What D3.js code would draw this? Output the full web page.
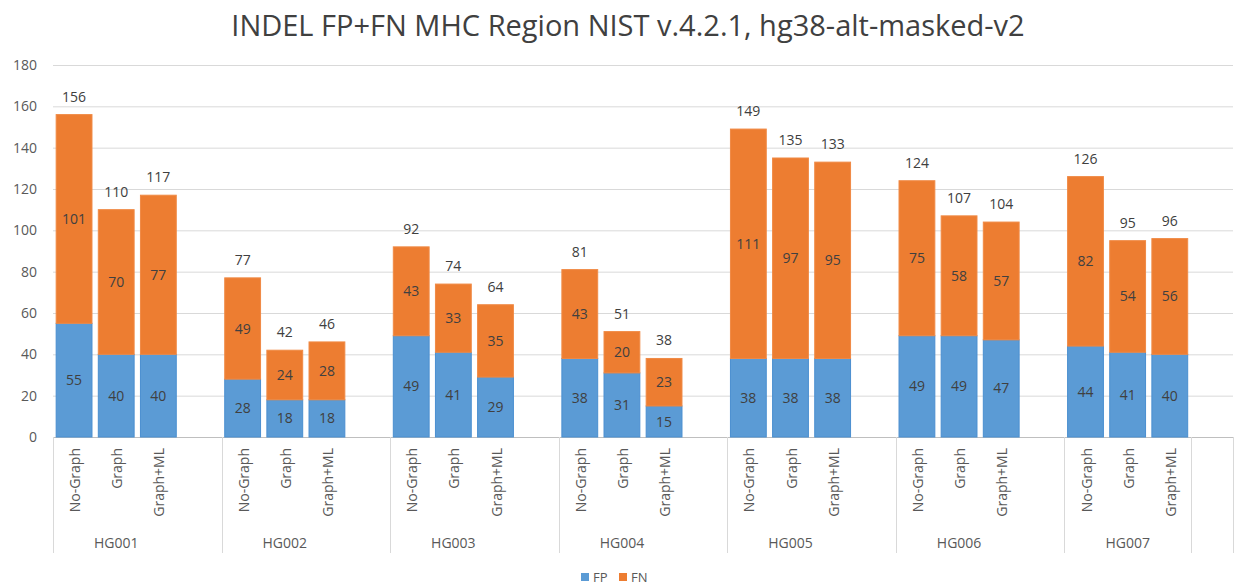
<!DOCTYPE html>
<html>
<head>
<meta charset="utf-8">
<script src="https://cdnjs.cloudflare.com/ajax/libs/d3/7.8.5/d3.min.js"></script>
<style>
  body { margin: 0; background: #fff; }
  text { font-family: "Open Sans", "Noto Sans", sans-serif; }
</style>
</head>
<body>
<div id="Canvas"></div>
<script>
// data
let groups = ["HG001", "HG002", "HG003", "HG004", "HG005", "HG006", "HG007"]
let methods = ["No-Graph", "Graph", "Graph+ML"]
let FP = [
    [55, 40, 40],
    [28, 18, 18],
    [49, 41, 29],
    [38, 31, 15],
    [38, 38, 38],
    [49, 49, 47],
    [44, 41, 40]
]
let FN = [
    [101, 70, 77],
    [49, 24, 28],
    [43, 33, 35],
    [43, 20, 23],
    [111, 97, 95],
    [75, 58, 57],
    [82, 54, 56]
]
let yTicks = [0, 20, 40, 60, 80, 100, 120, 140, 160, 180]
let seriesNames = ["FP", "FN"]
let colors = ["#5B9BD5", "#ED7D31"]

// svg
let svg = d3.select("#Canvas")
    .append("svg")
    .attr("width", 1235)
    .attr("height", 588)

// slots: each group has 3 bars + 1 blank slot, last group ends with its own blank slot
let slots = []
let bars = []
groups.forEach((g, gi) => {
    methods.forEach((m, mi) => {
        let key = g + "|" + m
        slots.push(key)
        bars.push({ group: g, method: m, key: key, fp: FP[gi][mi], fn: FN[gi][mi] })
    })
    slots.push(g + "|blank")
})

let plotLeft = 53, plotRight = 1233, plotTop = 65, plotBottom = 437

let xScale = d3.scaleBand()
    .domain(slots)
    .range([plotLeft, plotRight])
    .paddingInner(0.15)
    .paddingOuter(0.075)
let step = xScale.step()
let yScale = d3.scaleLinear()
    .domain([0, 180])
    .range([plotBottom, plotTop])

// title
svg.append("text")
    .attr("x", 628)
    .attr("y", 36)
    .attr("text-anchor", "middle")
    .style("font-size", "29px")
    .style("fill", "#404040")
    .text("INDEL FP+FN MHC Region NIST v.4.2.1, hg38-alt-masked-v2")

// gridlines + y labels
svg.append("g")
    .selectAll("line")
    .data(yTicks)
    .enter()
    .append("line")
    .attr("x1", plotLeft)
    .attr("x2", plotRight)
    .attr("y1", d => yScale(d) + 0.5)
    .attr("y2", d => yScale(d) + 0.5)
    .style("stroke", d => d === 0 ? "#bfbfbf" : "#d9d9d9")
    .style("stroke-width", 1)
svg.append("g")
    .selectAll("text")
    .data(yTicks)
    .enter()
    .append("text")
    .attr("x", 37)
    .attr("y", d => yScale(d) + 5)
    .attr("text-anchor", "end")
    .style("font-size", "14px")
    .style("fill", "#595959")
    .text(d => d)

// stacked bars
let stackData = bars.map(d => ({ key: d.key, FP: d.fp, FN: d.fn }))
let stacked = d3.stack().keys(seriesNames)(stackData)

let layers = svg.append("g")
    .selectAll("g")
    .data(stacked)
    .enter()
    .append("g")
    .style("fill", (d, i) => colors[i])
    .style("stroke", (d, i) => i === 0 ? "#4a8fd0" : "#f08a45")
    .style("stroke-width", 1)
layers.selectAll("rect")
    .data(d => d)
    .enter()
    .append("rect")
    .attr("x", d => xScale(d.data.key))
    .attr("width", xScale.bandwidth())
    .attr("y", d => yScale(d[1]))
    .attr("height", d => yScale(d[0]) - yScale(d[1]))

// value labels inside segments
let segLabels = []
stacked.forEach(s => {
    s.forEach(d => segLabels.push({ key: d.data.key, mid: (d[0] + d[1]) / 2, v: d[1] - d[0] }))
})
svg.append("g")
    .selectAll("text")
    .data(segLabels)
    .enter()
    .append("text")
    .attr("x", d => xScale(d.key) + xScale.bandwidth() / 2)
    .attr("y", d => yScale(d.mid) + 5)
    .attr("text-anchor", "middle")
    .style("font-size", "14px")
    .style("fill", "#404040")
    .text(d => d.v)

// totals on top
svg.append("g")
    .selectAll("text")
    .data(bars)
    .enter()
    .append("text")
    .attr("x", d => xScale(d.key) + xScale.bandwidth() / 2)
    .attr("y", d => yScale(d.fp + d.fn) - 13)
    .attr("text-anchor", "middle")
    .style("font-size", "14px")
    .style("fill", "#404040")
    .text(d => d.fp + d.fn)

// category labels (rotated)
svg.append("g")
    .selectAll("text")
    .data(bars)
    .enter()
    .append("text")
    .attr("transform", d => "translate(" + (xScale(d.key) + xScale.bandwidth() / 2 + 6) + ",448) rotate(-90)")
    .attr("text-anchor", "end")
    .style("font-size", "14px")
    .style("fill", "#595959")
    .text(d => d.method)

// group separators: every 4 slots, last group has 3 + lone blank slot
let sepX = [plotLeft]
groups.forEach((g, gi) => {
    if (gi < groups.length - 1) sepX.push(plotLeft + step * 4 * (gi + 1))
})
sepX.push(plotLeft + step * (slots.length - 1))
sepX.push(plotRight)
svg.append("g")
    .selectAll("line")
    .data(sepX)
    .enter()
    .append("line")
    .attr("x1", d => Math.round(d) + 0.5)
    .attr("x2", d => Math.round(d) + 0.5)
    .attr("y1", plotBottom)
    .attr("y2", 553)
    .style("stroke", "#d9d9d9")

// group labels
svg.append("g")
    .selectAll("text")
    .data(groups)
    .enter()
    .append("text")
    .attr("x", (d, i) => (xScale(d + "|No-Graph") + xScale(d + "|Graph+ML") + xScale.bandwidth()) / 2)
    .attr("y", 548)
    .attr("text-anchor", "middle")
    .style("font-size", "14px")
    .style("fill", "#595959")
    .text(d => d)

// legend
let legend = svg.append("g")
    .selectAll("g")
    .data(seriesNames)
    .enter()
    .append("g")
    .attr("transform", (d, i) => "translate(" + (581 + i * 38) + ",573)")
legend.append("rect")
    .attr("width", 8)
    .attr("height", 8)
    .style("fill", (d, i) => colors[i])
legend.append("text")
    .attr("x", 12)
    .attr("y", 9)
    .style("font-size", "13px")
    .style("fill", "#595959")
    .text(d => d)
</script>
</body>
</html>
